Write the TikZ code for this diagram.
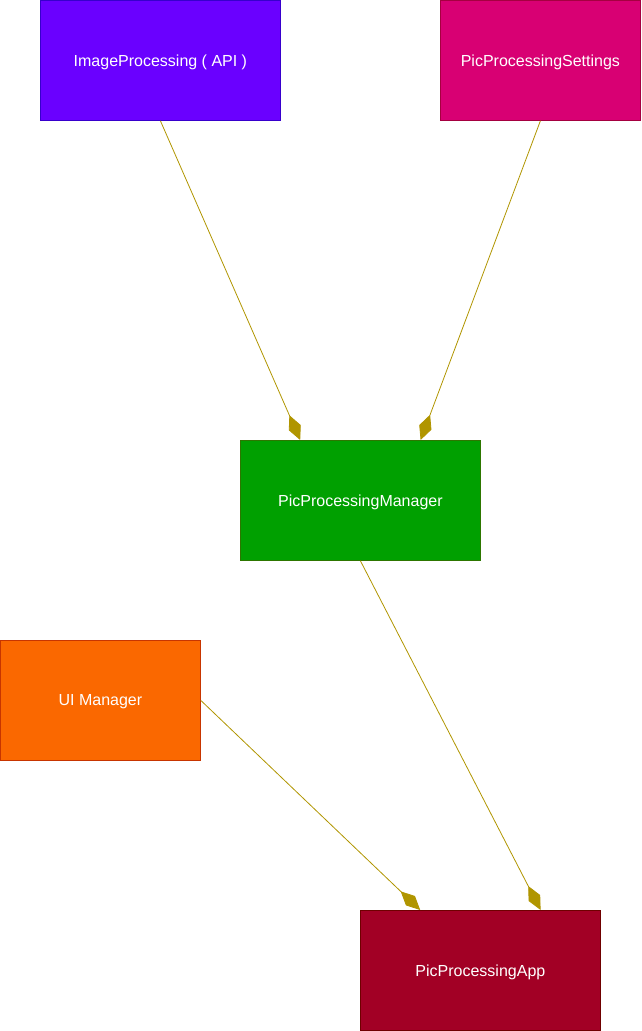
\documentclass[tikz,border=0pt]{standalone}
\usepackage{fontspec}
\setmainfont{Liberation Sans}
\usetikzlibrary{arrows.meta,calc}
\definecolor{cpurple}{HTML}{6A00FF}
\definecolor{spurple}{HTML}{3700CC}
\definecolor{cpink}{HTML}{D80073}
\definecolor{spink}{HTML}{A50040}
\definecolor{cgreen}{HTML}{00A000}
\definecolor{sgreen}{HTML}{2D7600}
\definecolor{corange}{HTML}{FA6800}
\definecolor{sorange}{HTML}{C73500}
\definecolor{cred}{HTML}{A20025}
\definecolor{sred}{HTML}{6F0000}
\definecolor{cline}{HTML}{B09500}
\tikzset{
  box/.style={draw, line width=0.8pt, minimum height=120pt, text=white, font=\fontsize{16pt}{19pt}\selectfont, inner sep=0pt, text depth=0pt, anchor=north west},
  comp/.style={draw=cline, line width=0.8pt, -{Diamond[length=27pt,width=13pt,fill=cline]}}
}
\begin{document}
\begin{tikzpicture}[x=1pt,y=-1pt]
\useasboundingbox (0,0) rectangle (641,1031);
\node[box, fill=cpurple, draw=spurple, minimum width=240pt] (img) at (40,0) {ImageProcessing ( API )};
\node[box, fill=cpink, draw=spink, minimum width=200pt] (set) at (440,0) {PicProcessingSettings};
\node[box, fill=cgreen, draw=sgreen, minimum width=240pt] (mgr) at (240,440) {PicProcessingManager};
\node[box, fill=corange, draw=sorange, minimum width=200pt] (ui) at (0,640) {UI Manager};
\node[box, fill=cred, draw=sred, minimum width=240pt] (app) at (360,910) {PicProcessingApp};
\draw[comp] (img.south) -- ($(mgr.north west)!0.25!(mgr.north east)$);
\draw[comp] (set.south) -- ($(mgr.north west)!0.75!(mgr.north east)$);
\draw[comp] (mgr.south) -- ($(app.north west)!0.75!(app.north east)$);
\draw[comp] (ui.east) -- ($(app.north west)!0.25!(app.north east)$);
\end{tikzpicture}
\end{document}
